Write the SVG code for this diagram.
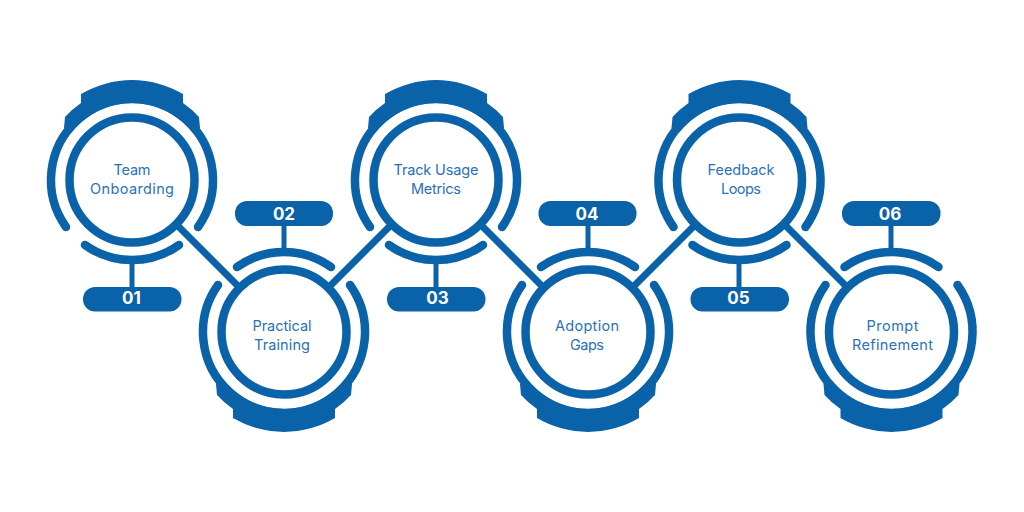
<svg xmlns="http://www.w3.org/2000/svg" width="1024" height="512" viewBox="0 0 1024 512">
<style>
.s{fill:none;stroke:#0A62A9;stroke-width:8.500;stroke-linecap:round}
.ring{fill:#fff;stroke:#0A62A9;stroke-width:8.500}
.c{fill:#0A62A9}
.stem{stroke:#0A62A9;stroke-width:5}
.link{stroke:#0A62A9;stroke-width:7;fill:none}
.t{font-family:"Inter","Noto Sans",sans-serif;font-size:14.500px;font-weight:400;fill:#2A72B4;text-anchor:middle}
.n{font-family:"Inter","Noto Sans",sans-serif;font-size:17px;font-weight:700;fill:#fff;text-anchor:middle}
</style>
<defs>
<g id="body">
<path class="c" d="M-68-52L-67-63A92 92 0 0 1-51-77L-51-86A100.500 100.500 0 0 1 51-86L51-77A92 92 0 0 1 67-63L68-52L61-47A77 77 0 0 0-61-47Z"/>
<path class="s" d="M-66 47A81 81 0 1 1 66 47"/>
<path class="s" d="M-47 65A81 81 0 0 0 47 65"/>
<circle class="ring" r="62.500"/>
</g>
</defs>
<rect width="1024" height="512" fill="#fff"/>
<g id="connectors">
<path class="link" d="M176 224L240 288M328 288L392 224M480 224L544 288M632 288L696 224M784 224L848 288"/>
</g>
<g id="node1"><use href="#body" x="132" y="180"/><line class="stem" x1="132" y1="264" x2="132" y2="288"/><rect class="c" x="83" y="287" width="98.500" height="24.500" rx="12"/><text class="n" x="131.500" y="304">01</text><text class="t" x="132" y="175" textLength="37">Team</text><text class="t" x="132" y="194" textLength="84">Onboarding</text></g>
<g id="node2"><use href="#body" transform="translate(284 332) scale(1 -1)"/><line class="stem" x1="284" y1="225" x2="284" y2="249"/><rect class="c" x="235" y="201" width="98" height="25" rx="12"/><text class="n" x="284" y="220">02</text><text class="t" x="282" y="331" textLength="59">Practical</text><text class="t" x="282" y="350" textLength="56">Training</text></g>
<g id="node3"><use href="#body" x="436" y="180"/><line class="stem" x1="436" y1="264" x2="436" y2="288"/><rect class="c" x="387" y="287" width="98.500" height="24.500" rx="12"/><text class="n" x="437.500" y="304">03</text><text class="t" x="436" y="175" textLength="85">Track Usage</text><text class="t" x="436" y="194" textLength="50">Metrics</text></g>
<g id="node4"><use href="#body" transform="translate(588 332) scale(1 -1)"/><line class="stem" x1="588" y1="225" x2="588" y2="249"/><rect class="c" x="538.500" y="201" width="98" height="25" rx="12"/><text class="n" x="587" y="220">04</text><text class="t" x="587" y="331" textLength="64">Adoption</text><text class="t" x="587" y="350" textLength="34">Gaps</text></g>
<g id="node5"><use href="#body" x="739.500" y="180"/><line class="stem" x1="739" y1="264" x2="739" y2="288"/><rect class="c" x="690.500" y="287" width="98.500" height="24.500" rx="12"/><text class="n" x="738.500" y="304">05</text><text class="t" x="741" y="175" textLength="67">Feedback</text><text class="t" x="741" y="194" textLength="40">Loops</text></g>
<g id="node6"><use href="#body" transform="translate(891.500 332) scale(1 -1)"/><line class="stem" x1="891" y1="225" x2="891" y2="249"/><rect class="c" x="842" y="201" width="98.500" height="25" rx="12"/><text class="n" x="890" y="220">06</text><text class="t" x="892.500" y="331" textLength="52">Prompt</text><text class="t" x="892.500" y="350" textLength="81">Refinement</text></g>
</svg>
